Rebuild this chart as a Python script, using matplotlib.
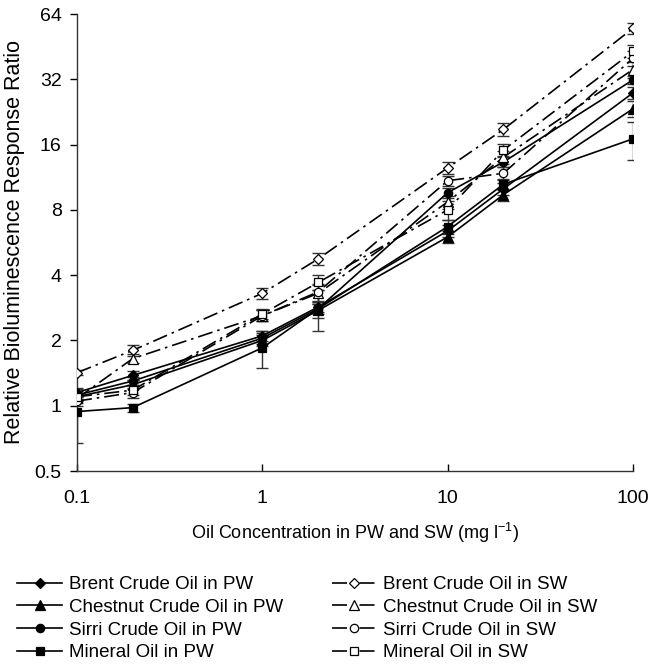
import matplotlib
matplotlib.use("Agg")
import matplotlib.pyplot as plt

plt.rcParams['font.family'] = ['Liberation Sans', 'DejaVu Sans']
plt.rcParams['mathtext.fontset'] = 'custom'
plt.rcParams['mathtext.rm'] = 'Liberation Sans'
plt.rcParams['mathtext.it'] = 'Liberation Sans'

conc = [0.1, 0.2, 1, 2, 10, 20, 100]

brent_pw = [1.15, 1.38, 2.10, 2.85, 6.4, 10.0, 27.7]
chestnut_pw = [1.10, 1.25, 2.00, 2.75, 6.0, 9.4, 23.4]
sirri_pw = [1.12, 1.30, 2.05, 2.80, 9.6, 13.3, 31.8]
mineral_pw = [0.94, 0.98, 1.85, 2.80, 6.7, 10.5, 17.0]

brent_sw = [1.42, 1.80, 3.30, 4.75, 12.5, 18.8, 55.0]
chestnut_sw = [1.08, 1.65, 2.60, 3.30, 8.7, 14.0, 35.5]
sirri_sw = [1.05, 1.15, 2.60, 3.35, 10.9, 11.8, 40.0]
mineral_sw = [1.10, 1.18, 2.65, 3.70, 8.0, 15.1, 43.0]

brent_pw_err = [0.05, 0.06, 0.12, 0.15, 0.4, 0.6, 1.8]
chestnut_pw_err = [0.05, 0.06, 0.12, 0.20, 0.4, 0.6, 2.0]
sirri_pw_err = [0.05, 0.06, 0.12, 0.15, 0.5, 0.7, 1.5]
mineral_pw_err = [0.27, 0.04, 0.35, 0.60, 0.5, 0.6, 3.4]
brent_sw_err = [0.04, 0.10, 0.20, 0.30, 0.8, 1.3, 3.2]
chestnut_sw_err = [0.05, 0.08, 0.15, 0.30, 0.6, 1.0, 3.0]
sirri_sw_err = [0.05, 0.06, 0.15, 0.30, 0.6, 0.8, 3.0]
mineral_sw_err = [0.05, 0.06, 0.15, 0.30, 0.8, 1.0, 3.0]

y_ticks = [0.5, 1, 2, 4, 8, 16, 32, 64]
y_labels = ['0.5', '1', '2', '4', '8', '16', '32', '64']
x_ticks = [0.1, 1, 10, 100]
x_labels = ['0.1', '1', '10', '100']

fig = plt.figure(figsize=(6.5, 6.64), dpi=100)
ax = fig.add_axes([77/650, 1-471/664, (633-77)/650, (471-14)/664])

sw_dash = (0, (9, 3, 1.5, 3))

series = [
    ("Brent Crude Oil in PW", brent_pw, brent_pw_err, 'D', True, 5.5),
    ("Chestnut Crude Oil in PW", chestnut_pw, chestnut_pw_err, '^', True, 6.5),
    ("Sirri Crude Oil in PW", sirri_pw, sirri_pw_err, 'o', True, 6),
    ("Mineral Oil in PW", mineral_pw, mineral_pw_err, 's', True, 6),
    ("Brent Crude Oil in SW", brent_sw, brent_sw_err, 'D', False, 5.5),
    ("Chestnut Crude Oil in SW", chestnut_sw, chestnut_sw_err, '^', False, 6.5),
    ("Sirri Crude Oil in SW", sirri_sw, sirri_sw_err, 'o', False, 6),
    ("Mineral Oil in SW", mineral_sw, mineral_sw_err, 's', False, 6),
]

handles = []
for label, vals, err, mk, filled, ms in series:
    ls = '-' if filled else sw_dash
    ax.errorbar(conc, vals, yerr=err, fmt='none', ecolor='#333333',
                elinewidth=1, capsize=4, capthick=1, zorder=2)
    h, = ax.plot(conc, vals, linestyle=ls, color='black', lw=1.2,
                 marker=mk, markersize=ms,
                 markerfacecolor='black' if filled else 'white',
                 markeredgecolor='black', markeredgewidth=0.9,
                 label=label, zorder=3)
    handles.append(h)

ax.set_xscale('log')
ax.set_yscale('log', base=2)
ax.set_xlim(0.1, 100)
ax.set_ylim(0.5, 64)
ax.set_xticks(x_ticks)
ax.set_xticklabels(x_labels)
ax.set_yticks(y_ticks)
ax.set_yticklabels(y_labels)
ax.minorticks_off()
ax.tick_params(axis='x', direction='in', length=5, width=1, pad=14,
               labelsize=14, colors='black')
ax.tick_params(axis='y', direction='out', length=5, width=1, pad=6,
               labelsize=14, colors='black')
for s in ['top', 'right']:
    ax.spines[s].set_visible(False)
for s in ['left', 'bottom']:
    ax.spines[s].set_color('#333333')
    ax.spines[s].set_linewidth(1)

ax.set_ylabel('Relative Bioluminescence Response Ratio', fontsize=15.5, labelpad=7)
ax.set_xlabel('Oil Concentration in PW and SW (mg l$^{-1}$)', fontsize=13, labelpad=10)

fig.legend(handles=handles, loc='upper left', bbox_to_anchor=(17/650, 1-576/664),
           ncol=2, frameon=False, fontsize=13.5, handlelength=2.4,
           handletextpad=0.35, labelspacing=0.3, columnspacing=2.6,
           borderpad=0, borderaxespad=0)

fig.savefig('out.png', dpi=100)
